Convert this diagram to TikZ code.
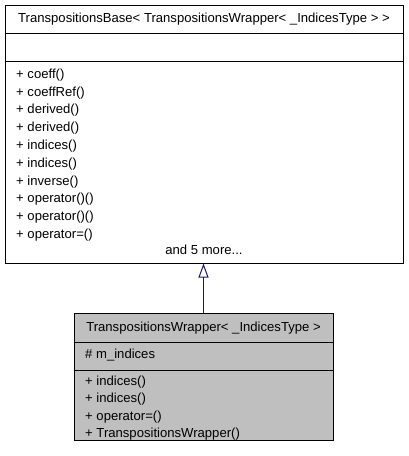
\documentclass[tikz,border=0pt]{standalone}
\usepackage{fontspec}
\setmainfont{Liberation Sans}
\usetikzlibrary{arrows.meta}
\definecolor{edgeblue}{HTML}{191970}
\definecolor{boxgray}{HTML}{BFBFBF}
\tikzset{
  umlbox/.style={draw=black, line width=1pt, rectangle, inner sep=0pt},
  member/.style={anchor=west, inner sep=0pt, font=\fontsize{13.1}{15}\selectfont},
  titletext/.style={anchor=center, inner sep=0pt, font=\fontsize{13.1}{15}\selectfont},
  sep/.style={line width=1pt, black}
}
\begin{document}
\begin{tikzpicture}[x=1pt,y=-1pt]
\useasboundingbox (0,0) rectangle (408,456);
% top box
\node[umlbox, minimum width=398pt, minimum height=258pt, fill=white] (base) at (204,134) {};
\draw[sep] (base.west |- 0,33) -- (base.east |- 0,33);
\draw[sep] (base.west |- 0,61) -- (base.east |- 0,61);
\node[titletext] (bt) at (204,19) {TranspositionsBase< TranspositionsWrapper< \_IndicesType > >};
\node[member] (m1) at (16,75) {+ coeff()};
\node[member] (m2) at (16,92.8) {+ coeffRef()};
\node[member] (m3) at (16,110.6) {+ derived()};
\node[member] (m4) at (16,128.4) {+ derived()};
\node[member] (m5) at (16,146.2) {+ indices()};
\node[member] (m6) at (16,164) {+ indices()};
\node[member] (m7) at (16,181.8) {+ inverse()};
\node[member] (m8) at (16,199.6) {+ operator()()};
\node[member] (m9) at (16,217.4) {+ operator()()};
\node[member] (m10) at (16,235.2) {+ operator=()};
\node[titletext] (more) at (204,250) {and 5 more...};
% bottom box
\node[umlbox, minimum width=259pt, minimum height=127pt, fill=boxgray] (wrap) at (203.5,376.5) {};
\draw[sep] (wrap.west |- 0,342) -- (wrap.east |- 0,342);
\draw[sep] (wrap.west |- 0,370) -- (wrap.east |- 0,370);
\node[titletext] (wt) at (203.5,328) {TranspositionsWrapper< \_IndicesType >};
\node[member] (w0) at (85,355.5) {\# m\_indices};
\node[member] (w1) at (85,382) {+ indices()};
\node[member] (w2) at (85,399.5) {+ indices()};
\node[member] (w3) at (85,417) {+ operator=()};
\node[member] (w4) at (85,434.5) {+ TranspositionsWrapper()};
% inheritance
\draw[edgeblue, line width=1pt, -{Triangle[open, length=14pt, width=10pt]}] (wrap.north) -- (wrap.north |- base.south);
\end{tikzpicture}
\end{document}
